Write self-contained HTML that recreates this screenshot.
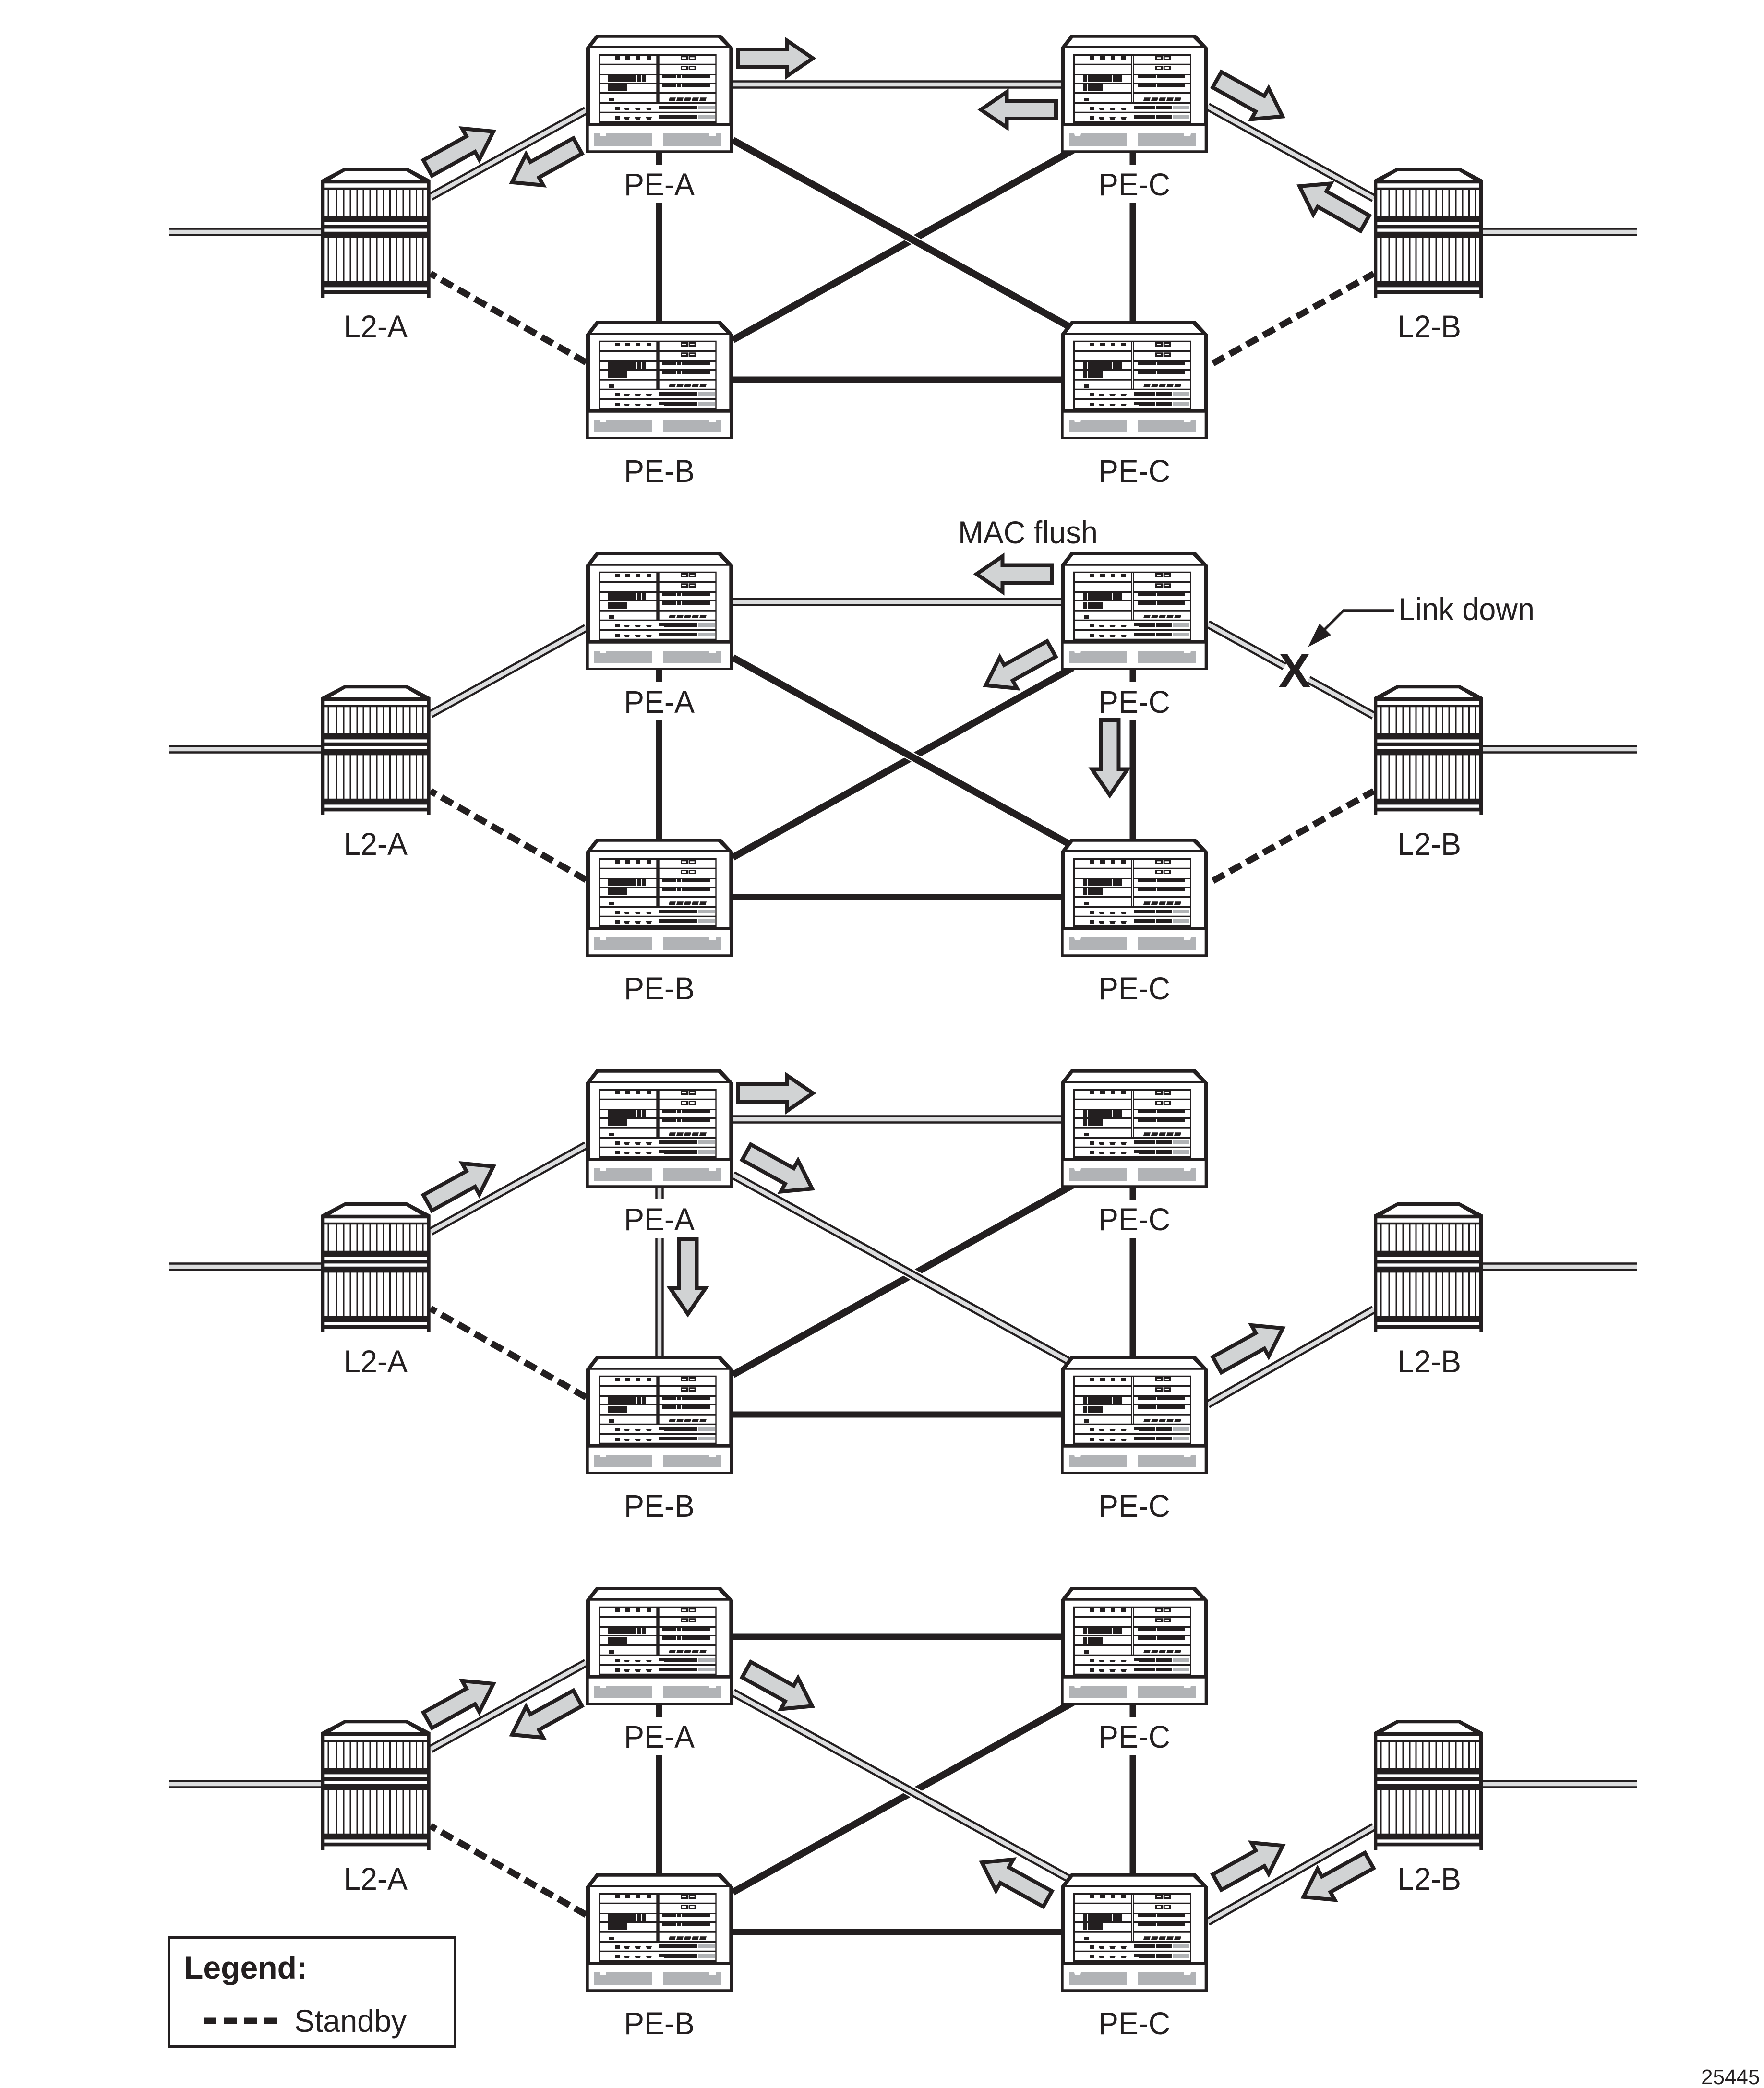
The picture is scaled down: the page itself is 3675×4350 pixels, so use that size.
<!DOCTYPE html>
<html><head><meta charset="utf-8"><title>MAC flush diagram</title>
<style>
html,body{margin:0;padding:0;background:#fff}
svg{display:block}
text{font-family:"Liberation Sans",Arial,sans-serif;fill:#231f20;font-size:66px}
.t{stroke:#231f20;stroke-width:13;fill:none}
.x{stroke:#231f20;stroke-width:14.5;fill:none}
.d{stroke:#231f20;stroke-width:17.5;fill:none}
.g{stroke:#dcddde;stroke-width:8.5;fill:none}
.s{stroke:#231f20;stroke-width:13.5;fill:none;stroke-dasharray:27 13}
</style></head><body>
<svg xmlns="http://www.w3.org/2000/svg" width="3675" height="4350" viewBox="0 0 3675 4350">
<defs>
<g id="core">
<path fill="#231f20" d="M0 27 21 0H281L306 27V246H0Z"/>
<path fill="#fff" d="M12.3 24 25.7 6.7H275L292.3 24ZM8 28.7H298.3V184H8ZM5.7 190.7H299.7V241.3H5.7Z"/>
<path fill="#231f20" d="M26 40.7H271.7V184H26Z"/>
<path fill="#fff" d="M29 44H146.3V60.7H29ZM29 64H146.3V82H29ZM29 85H146.3V100H29ZM29 103H146.3V120H29ZM29 123.7H146.3V140.7H29ZM149 44H150V140.7H149ZM152.7 44H269.3V60.7H152.7ZM152.7 64H269.3V82H152.7ZM152.7 85H269.3V100H152.7ZM152.7 103H269.3V120H152.7ZM152.7 123.7H269.3V140.7H152.7ZM29 144H269.3V160.7H29ZM29 164H269.3V180.7H29Z"/>
<path fill="#231f20" d="M60 45h10v7H60ZM82 45h10v7H82ZM104 45h9v7h-9ZM126 45h9v7h-9ZM197 44h15.3v9H197ZM213.7 44H229v9h-15.3ZM197 65.3h15.3V74H197ZM213.7 65.3H229V74h-15.3ZM48 132h10v7H48ZM174 131.3h13l-2 6.7h-13ZM190 131.3h13l-2 6.7h-13ZM206 131.3h13l-2 6.7h-13ZM222 131.3h13l-2 6.7h-13ZM238 131.3h13l-2 6.7h-13ZM60 150h10v7H60ZM79 152h12l-2 5h-8ZM101.3 152h12.7l-2 5h-8.700ZM124.700 152h12.300l-2 5h-8.300ZM152 148h10v7h-10ZM163 148h34v8h-34ZM198 148h34v8h-34ZM60 170h10v7H60ZM79 172h12l-2 5h-8ZM101.3 172h12.7l-2 5h-8.700ZM124.700 172h12.300l-2 5h-8.300ZM152 168h10v7h-10ZM163 168h34v8h-34ZM198 168h34v8h-34Z"/>
<path fill="#fff" d="M200 47.300h9V50h-9ZM216.700 47.300h9V50h-9ZM200 68h9v3h-9ZM216.700 68h9v3h-9Z"/>
<path fill="#b1b3b6" d="M234 148h34v8h-34ZM234 168h34v8h-34ZM17 206H28l1 5H41l1-5H138V232H17ZM161 206H256l1 5H270l1-5H282V232H161Z"/>
</g>
<g id="peA"><use href="#core"/><path fill="#231f20" d="M45 85H85V99H45ZM86 85h9V99H86ZM96 85h9V99H96ZM106 85h9V99H106ZM116 85h9V99H116ZM45 104H85V118H45ZM159 85h9v6h-9ZM169 85h9v6h-9ZM179 85h9v6h-9ZM189 85h9v6h-9ZM199 85h9v6h-9ZM209 85H258v6H209ZM159 103h9v7h-9ZM169 103h9v7h-9ZM179 103h9v7h-9ZM189 103h9v7h-9ZM199 103h9v7h-9ZM209 103H258v7H209Z"/></g>
<g id="peC"><use href="#core"/><path fill="#231f20" d="M47 85h8V99H47ZM57 85H107V99H57ZM108 85h9V99H108ZM118 85h9V99H118ZM47 104h8V118H47ZM57 104H87V118H57ZM160 85h9v6h-9ZM170 85h9v6h-9ZM180 85h9v6h-9ZM190 85h9v6h-9ZM200 85H258v6H200ZM160 103h9v7h-9ZM170 103h9v7h-9ZM180 103h9v7h-9ZM190 103h9v7h-9ZM200 103H258v7H200Z"/></g>
<g id="l2">
<path fill="#231f20" d="M0 25.700 49 0H179L227.700 25.700V271H220.300V263.400H7.300V271H0Z"/>
<path fill="#fff" d="M19 25.700 50.700 7.300H176.700L208 25.700ZM7.300 33.300H220V41.700H7.300ZM7.300 46.300H220V100.700H7.300ZM7.300 113.400H220V119.700H7.300ZM7.300 127.400H220V133.700H7.300ZM7.300 146.400H220V236.700H7.300ZM7.300 249.400H220V255.700H7.300Z"/>
<path stroke="#231f20" stroke-width="3" fill="none" d="M15 46V101M15 146V237M32 46V101M32 146V237M47 46V101M47 146V237M61 46V101M61 146V237M75 46V101M75 146V237M88 46V101M88 146V237M102 46V101M102 146V237M116 46V101M116 146V237M130 46V101M130 146V237M143.500 46V101M143.500 146V237M157 46V101M157 146V237M171 46V101M171 146V237M185 46V101M185 146V237M198.500 46V101M198.500 146V237M212 46V101M212 146V237"/>
</g>
<polygon id="ar" points="4,-18.500 106.500,-18.500 106.500,-37 160.500,0 106.500,37 106.500,18.500 4,18.500" fill="#d1d3d4" stroke="#231f20" stroke-width="8" stroke-miterlimit="10"/>
<g id="ext"><path class="d" d="M352 483H669M3090 483H3410"/><path class="g" d="M352 483H669M3090 483H3410"/></g>
<g id="dLA"><path class="d" d="M897 410 1221 230"/><path class="g" d="M897 410 1221 230"/></g>
<g id="dH"><path class="d" d="M1527 176H2210"/><path class="g" d="M1527 176H2210"/></g>
<g id="dX"><path d="M1880 487.400 1922 510.700" stroke="#fff" stroke-width="23" fill="none"/><path class="d" d="M1527 292 2225 679"/><path class="g" d="M1527 292 2225 679"/></g>
<g id="dV"><path class="d" d="M1374 318V342M1374 424V669"/><path class="g" d="M1374 318V342M1374 424V669"/></g>
<g id="dRt"><path class="d" d="M2516 222 2862 413"/><path class="g" d="M2516 222 2862 413"/></g>
<g id="dRb"><path class="d" d="M2516 770 2862 572"/><path class="g" d="M2516 770 2862 572"/></g>
<path id="tV1" class="t" d="M1373 318V343M1373 423V669"/>
<path id="tV2" class="t" d="M2360 318V343M2360 423V669"/>
<path id="tH1" class="t" d="M1527 176H2210"/>
<path id="tH2" class="t" d="M1527 791H2210"/>
<g id="tX1"><path d="M1880 487.400 1922 510.700" stroke="#fff" stroke-width="19" fill="none"/><path class="x" d="M1527 292 2225 679"/></g>
<path id="tX2" class="x" d="M1527 708 2235 313"/>
<path id="sL" class="s" d="M1221 755 897 570"/>
<path id="sR" class="s" d="M2527 757 2862 570"/>
<g id="devs">
<use href="#l2" x="669" y="349"/><use href="#l2" x="2862" y="349"/>
<use href="#peA" x="1221" y="72"/><use href="#peC" x="2210" y="72"/>
<use href="#peA" x="1221" y="669"/><use href="#peC" x="2210" y="669"/>
</g>
</defs>
<rect width="3675" height="4350" fill="#fff"/>

<!-- ROW 1 -->
<g>
<use href="#ext"/><use href="#dLA"/><use href="#dH"/><use href="#dRt"/>
<use href="#tX2"/><use href="#tX1"/><use href="#tV1"/><use href="#tV2"/><use href="#tH2"/><use href="#sL"/><use href="#sR"/>
<use href="#devs"/>
<use href="#ar" transform="translate(1533,121.500)"/>
<use href="#ar" transform="translate(2204,228.500) rotate(180)"/>
<use href="#ar" transform="translate(887.500,351.700) rotate(-29)"/>
<use href="#ar" transform="translate(1207,302) rotate(151)"/>
<use href="#ar" transform="translate(2532,164) rotate(29.300)"/>
<use href="#ar" transform="translate(2847,467) rotate(209.500)"/>
<text x="1300" y="407" textLength="147" lengthAdjust="spacingAndGlyphs">PE-A</text>
<text x="2288" y="407" textLength="150" lengthAdjust="spacingAndGlyphs">PE-C</text>
<text x="716" y="703" textLength="133" lengthAdjust="spacingAndGlyphs">L2-A</text>
<text x="2911" y="703" textLength="133" lengthAdjust="spacingAndGlyphs">L2-B</text>
<text x="1300" y="1004" textLength="147" lengthAdjust="spacingAndGlyphs">PE-B</text>
<text x="2288" y="1004" textLength="150" lengthAdjust="spacingAndGlyphs">PE-C</text>
</g>

<!-- ROW 2 -->
<g transform="translate(0,1078)">
<use href="#ext"/><use href="#dLA"/><use href="#dH"/>
<path class="d" d="M2516 222 2676 310.500M2726 338 2862 413"/><path class="g" d="M2516 222 2676 310.500M2726 338 2862 413"/>
<use href="#tX2"/><use href="#tX1"/><use href="#tV1"/><use href="#tV2"/><use href="#tH2"/><use href="#sL"/><use href="#sR"/>
<use href="#devs"/>
<use href="#ar" transform="translate(2195,118) rotate(180)"/>
<use href="#ar" transform="translate(2194,272) rotate(151)"/>
<use href="#ar" transform="translate(2312,418) rotate(90)"/>
<text x="1300" y="407" textLength="147" lengthAdjust="spacingAndGlyphs">PE-A</text>
<text x="2288" y="407" textLength="150" lengthAdjust="spacingAndGlyphs">PE-C</text>
<text x="716" y="703" textLength="133" lengthAdjust="spacingAndGlyphs">L2-A</text>
<text x="2911" y="703" textLength="133" lengthAdjust="spacingAndGlyphs">L2-B</text>
<text x="1300" y="1004" textLength="147" lengthAdjust="spacingAndGlyphs">PE-B</text>
<text x="2288" y="1004" textLength="150" lengthAdjust="spacingAndGlyphs">PE-C</text>
<text x="1996" y="54" textLength="291" lengthAdjust="spacingAndGlyphs">MAC flush</text>
<text x="2913" y="214" textLength="284" lengthAdjust="spacingAndGlyphs">Link down</text>
<path d="M2904 194H2799L2752 241" fill="none" stroke="#231f20" stroke-width="5.500"/>
<polygon points="2725,270 2749,221 2773,245" fill="#231f20"/>
<text x="2697" y="353" text-anchor="middle" font-weight="bold" style="font-size:100px">X</text>
</g>

<!-- ROW 3 -->
<g transform="translate(0,2156)">
<use href="#ext"/><use href="#dLA"/><use href="#dH"/><use href="#dRb"/>
<use href="#tX2"/><use href="#dX"/><use href="#dV"/><use href="#tV2"/><use href="#tH2"/><use href="#sL"/>
<use href="#devs"/>
<use href="#ar" transform="translate(1533,121.500)"/>
<use href="#ar" transform="translate(887.500,351.700) rotate(-29)"/>
<use href="#ar" transform="translate(1551.500,242.500) rotate(29)"/>
<use href="#ar" transform="translate(1433,421) rotate(90)"/>
<use href="#ar" transform="translate(2532,689) rotate(-29)"/>
<text x="1300" y="407" textLength="147" lengthAdjust="spacingAndGlyphs">PE-A</text>
<text x="2288" y="407" textLength="150" lengthAdjust="spacingAndGlyphs">PE-C</text>
<text x="716" y="703" textLength="133" lengthAdjust="spacingAndGlyphs">L2-A</text>
<text x="2911" y="703" textLength="133" lengthAdjust="spacingAndGlyphs">L2-B</text>
<text x="1300" y="1004" textLength="147" lengthAdjust="spacingAndGlyphs">PE-B</text>
<text x="2288" y="1004" textLength="150" lengthAdjust="spacingAndGlyphs">PE-C</text>
</g>

<!-- ROW 4 -->
<g transform="translate(0,3234)">
<use href="#ext"/><use href="#dLA"/><use href="#tH1"/><use href="#dRb"/>
<use href="#tX2"/><use href="#dX"/><use href="#tV1"/><use href="#tV2"/><use href="#tH2"/><use href="#sL"/>
<use href="#devs"/>
<use href="#ar" transform="translate(887.500,351.700) rotate(-29)"/>
<use href="#ar" transform="translate(1207,302) rotate(151)"/>
<use href="#ar" transform="translate(1551.500,242.500) rotate(29)"/>
<use href="#ar" transform="translate(2186,724) rotate(209)"/>
<use href="#ar" transform="translate(2532,689) rotate(-29)"/>
<use href="#ar" transform="translate(2856,640) rotate(151)"/>
<text x="1300" y="407" textLength="147" lengthAdjust="spacingAndGlyphs">PE-A</text>
<text x="2288" y="407" textLength="150" lengthAdjust="spacingAndGlyphs">PE-C</text>
<text x="716" y="703" textLength="133" lengthAdjust="spacingAndGlyphs">L2-A</text>
<text x="2911" y="703" textLength="133" lengthAdjust="spacingAndGlyphs">L2-B</text>
<text x="1300" y="1004" textLength="147" lengthAdjust="spacingAndGlyphs">PE-B</text>
<text x="2288" y="1004" textLength="150" lengthAdjust="spacingAndGlyphs">PE-C</text>
</g>

<!-- Legend -->
<rect x="352.500" y="4036.500" width="596" height="227" fill="#fff" stroke="#231f20" stroke-width="5"/>
<text x="383" y="4122" font-weight="bold" textLength="257" lengthAdjust="spacingAndGlyphs">Legend:</text>
<path d="M425 4210H577" stroke="#231f20" stroke-width="13" stroke-dasharray="26 16" fill="none"/>
<text x="613" y="4233" textLength="234" lengthAdjust="spacingAndGlyphs">Standby</text>
<text x="3544" y="4342" style="font-size:44px">25445</text>
</svg>
</body></html>
